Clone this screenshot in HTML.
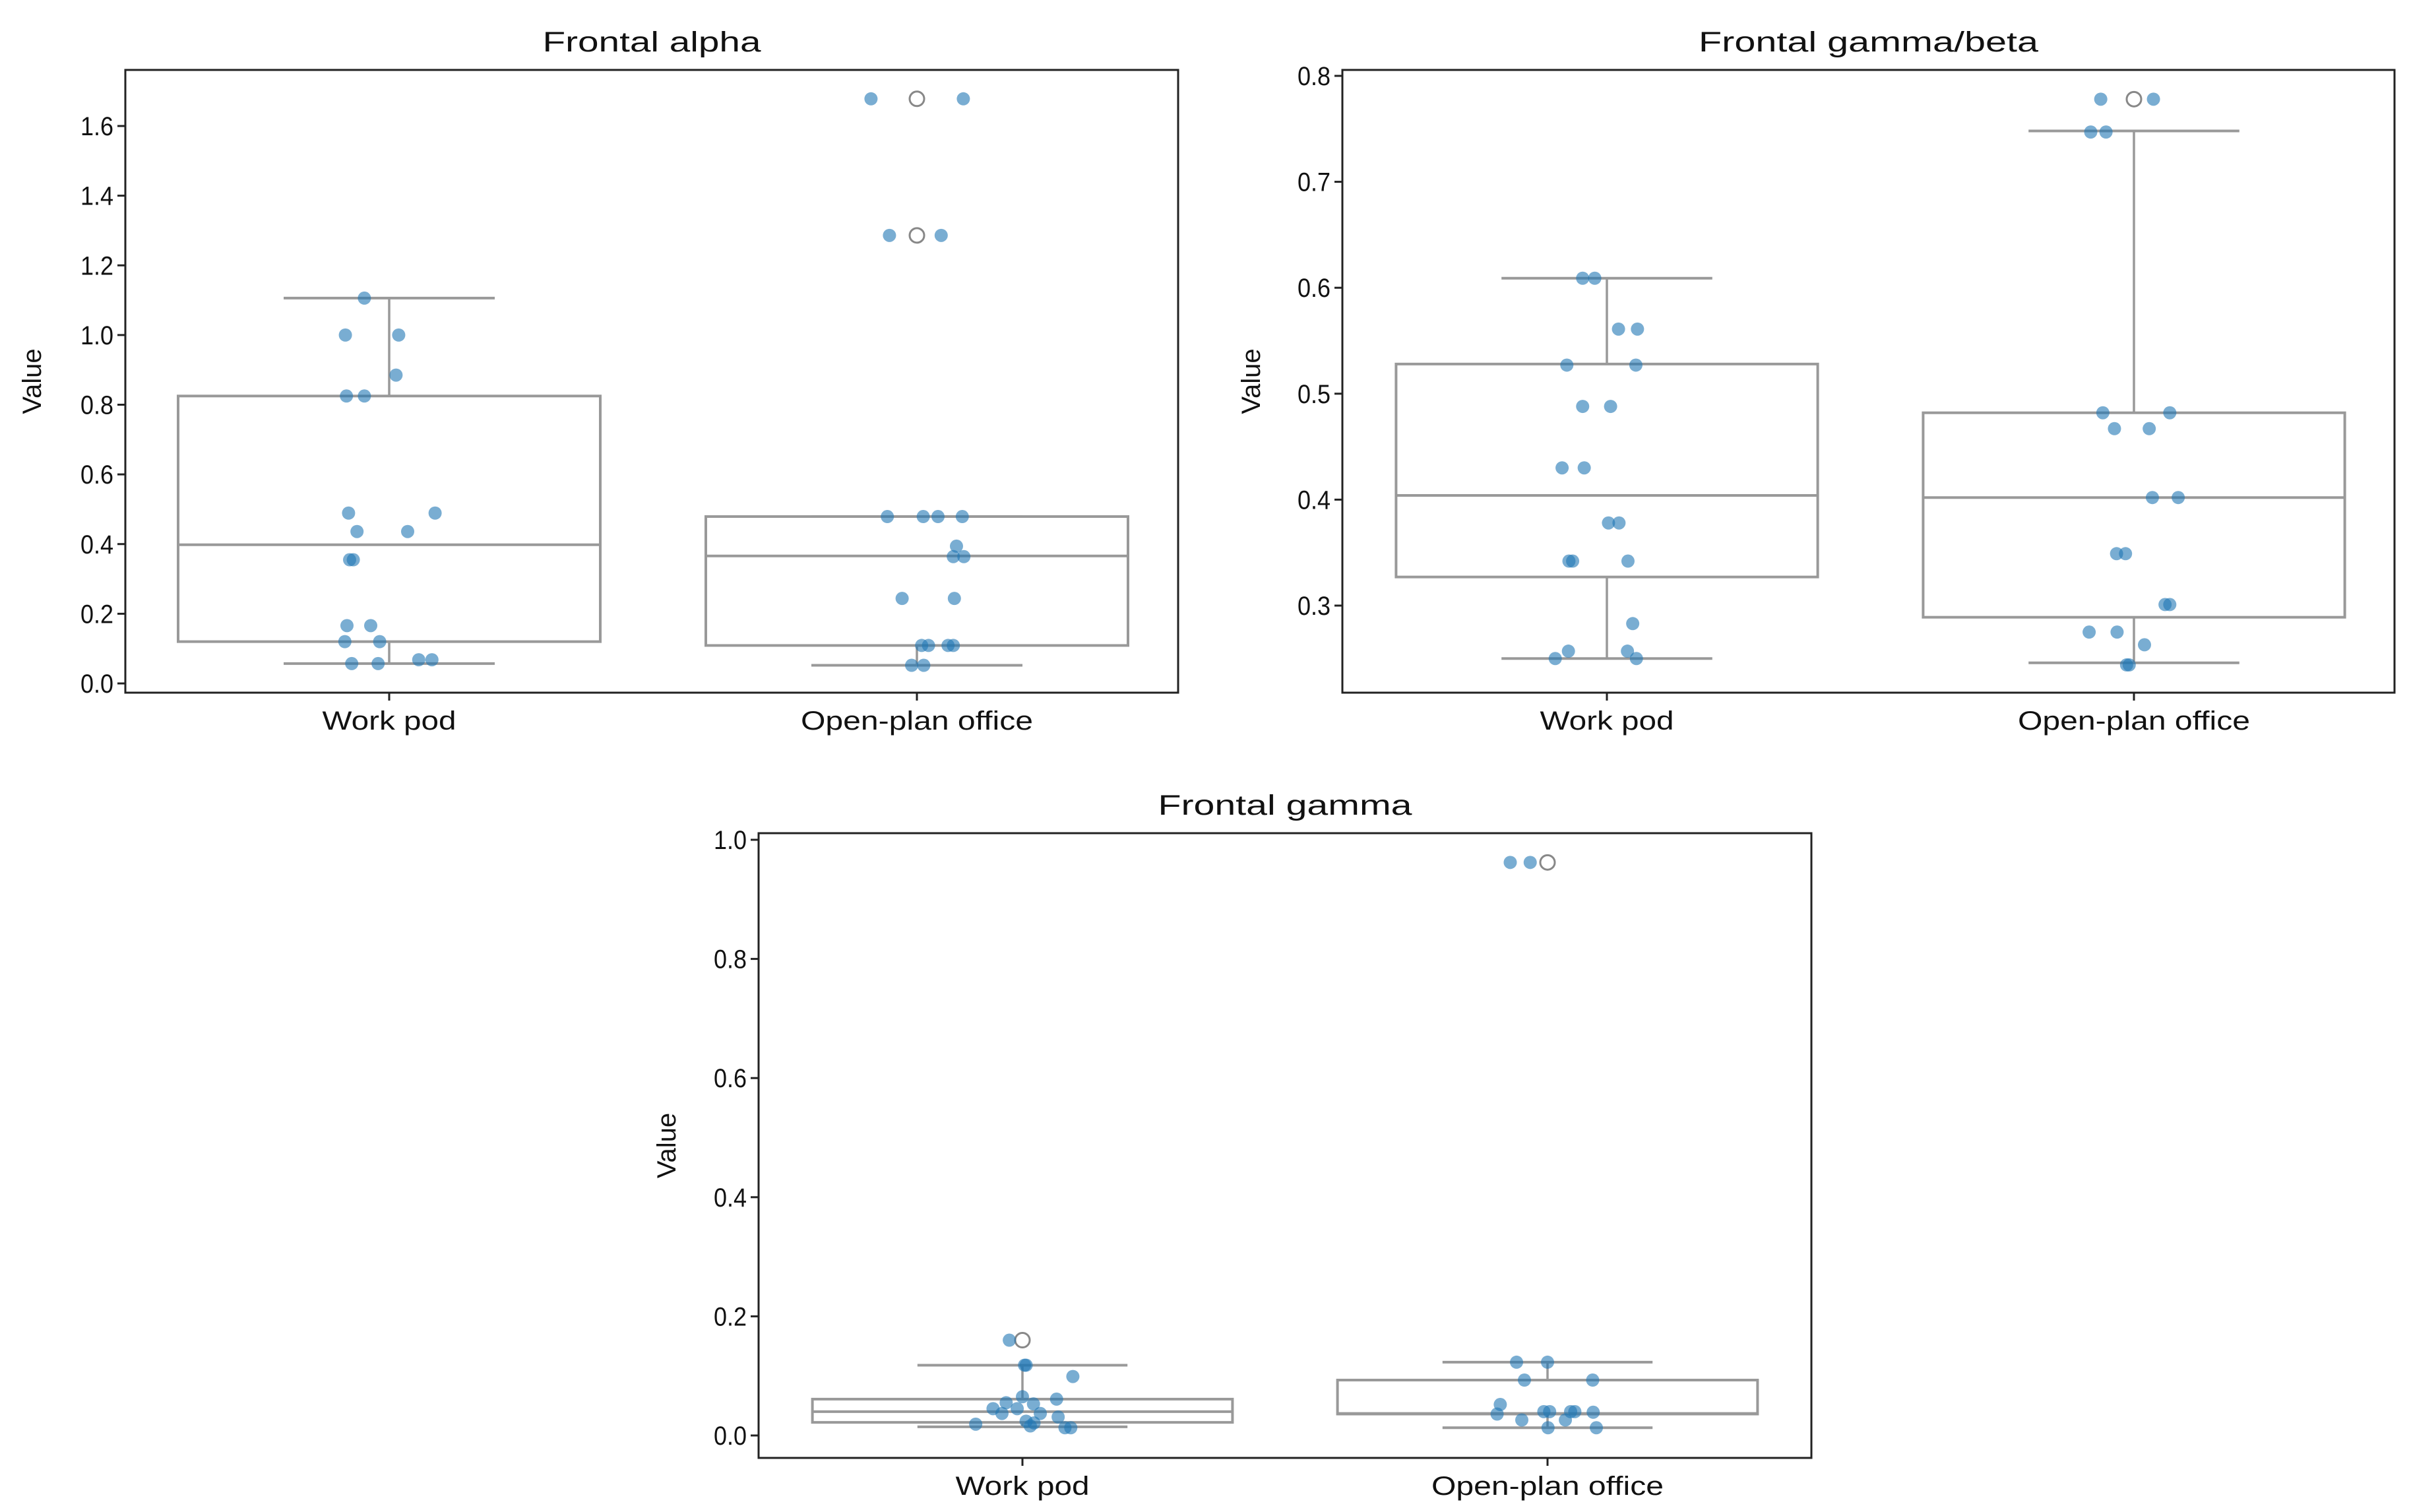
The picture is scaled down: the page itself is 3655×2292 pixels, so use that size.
<!DOCTYPE html>
<html><head><meta charset="utf-8"><style>
html,body{margin:0;padding:0;background:#fff}
svg{display:block}
text{font-family:"Liberation Sans","DejaVu Sans",sans-serif;fill:#111}
</style></head><body>
<svg id="chart" width="3655" height="2292" viewBox="0 0 3655 2292" xmlns="http://www.w3.org/2000/svg"></svg>
<script>
// ---- shared ----
const categories = ["Work pod", "Open-plan office"];

// Panel 1: Frontal alpha
const alphaWorkValues = [1.106,1.0,1.0,0.885,0.825,0.825,0.489,0.489,0.436,0.436,0.355,0.355,0.166,0.166,0.12,0.12,0.068,0.068,0.057,0.057];
const alphaWorkJitter = [-0.047,-0.083,0.018,0.013,-0.081,-0.047,-0.077,0.087,-0.061,0.035,-0.075,-0.068,-0.08,-0.035,-0.084,-0.018,0.056,0.081,-0.071,-0.021];
const alphaOpenValues = [1.678,1.678,1.286,1.286,0.479,0.479,0.479,0.479,0.394,0.364,0.364,0.244,0.244,0.109,0.109,0.109,0.109,0.052,0.052];
const alphaOpenJitter = [-0.087,0.088,-0.052,0.046,-0.056,0.012,0.040,0.086,0.075,0.069,0.089,-0.028,0.071,0.009,0.022,0.059,0.069,-0.010,0.013];
const alphaBoxQ1 = [0.12, 0.109];
const alphaBoxMedian = [0.398, 0.366];
const alphaBoxQ3 = [0.825, 0.479];
const alphaWhiskLow = [0.057, 0.052];
const alphaWhiskHigh = [1.106, 0.479];
const alphaOutliersOpen = [1.678, 1.286];
const alphaTicks = [0.0,0.2,0.4,0.6,0.8,1.0,1.2,1.4,1.6];
const alphaTickLabels = ["0.0","0.2","0.4","0.6","0.8","1.0","1.2","1.4","1.6"];

// Panel 2: Frontal gamma/beta
const gbWorkValues = [0.609,0.609,0.561,0.561,0.527,0.527,0.488,0.488,0.430,0.430,0.378,0.378,0.342,0.342,0.342,0.283,0.257,0.257,0.250,0.250];
const gbWorkJitter = [-0.046,-0.023,0.022,0.058,-0.076,0.055,-0.046,0.007,-0.085,-0.043,0.003,0.023,-0.072,-0.065,0.040,0.049,-0.073,0.039,-0.098,0.056];
const gbOpenValues = [0.778,0.778,0.747,0.747,0.482,0.482,0.467,0.467,0.402,0.402,0.349,0.349,0.301,0.301,0.275,0.275,0.263,0.244,0.244];
const gbOpenJitter = [-0.063,0.037,-0.082,-0.053,-0.059,0.068,-0.037,0.029,0.035,0.084,-0.033,-0.016,0.059,0.068,-0.085,-0.032,0.020,-0.014,-0.009];
const gbBoxQ1 = [0.327, 0.289];
const gbBoxMedian = [0.404, 0.402];
const gbBoxQ3 = [0.528, 0.482];
const gbWhiskLow = [0.25, 0.246];
const gbWhiskHigh = [0.609, 0.748];
const gbOutliersOpen = [0.778];
const gbTicks = [0.3,0.4,0.5,0.6,0.7,0.8];
const gbTickLabels = ["0.3","0.4","0.5","0.6","0.7","0.8"];

// Panel 3: Frontal gamma
const gWorkValues = [0.160,0.118,0.118,0.099,0.065,0.061,0.055,0.053,0.045,0.045,0.037,0.037,0.031,0.024,0.021,0.016,0.019,0.013,0.013];
const gWorkJitter = [-0.025,0.004,0.007,0.096,0.0,0.065,-0.031,0.021,-0.056,-0.010,0.034,-0.039,0.068,0.007,0.022,0.015,-0.089,0.081,0.092];
const gOpenValues = [0.962,0.962,0.123,0.123,0.093,0.093,0.052,0.036,0.040,0.040,0.040,0.040,0.039,0.026,0.026,0.013,0.013];
const gOpenJitter = [-0.071,-0.033,-0.059,0.0,-0.044,0.086,-0.090,-0.096,-0.007,0.004,0.044,0.052,0.087,-0.049,0.034,0.001,0.093];
const gBoxQ1 = [0.022, 0.036];
const gBoxMedian = [0.040, 0.037];
const gBoxQ3 = [0.061, 0.093];
const gWhiskLow = [0.0145, 0.013];
const gWhiskHigh = [0.118, 0.123];
const gOutliersWork = [0.160];
const gOutliersOpen = [0.962];
const gTicks = [0.0,0.2,0.4,0.6,0.8,1.0];
const gTickLabels = ["0.0","0.2","0.4","0.6","0.8","1.0"];

const NS = "http://www.w3.org/2000/svg";
const svg = document.getElementById("chart");
function mk(tag, attrs, parent){
  const e = document.createElementNS(NS, tag);
  for (const k in attrs) e.setAttribute(k, attrs[k]);
  (parent||svg).appendChild(e);
  return e;
}

function panel(cfg){
  const g = mk("g", {});
  
  
  const y = v => cfg.y0px + (v - cfg.y0v) * (cfg.y1px - cfg.y0px) / (cfg.y1v - cfg.y0v);
  const x = c => cfg.cx0 + c * (cfg.cx1 - cfg.cx0);
  const unit = cfg.cx1 - cfg.cx0;
  const gray = "#999";
  for (let i = 0; i < categories.length; i++){
    const bg = mk("g", {}, g);
    
    
    const cx = x(i), hw = 0.4*unit, cw = 0.2*unit;
    mk("line", {x1:cx, x2:cx, y1:y(cfg.wl[i]), y2:y(cfg.q1[i]), stroke:gray, "stroke-width":3.5}, bg);
    mk("line", {x1:cx, x2:cx, y1:y(cfg.q3[i]), y2:y(cfg.wh[i]), stroke:gray, "stroke-width":3.5}, bg);
    mk("line", {x1:cx-cw, x2:cx+cw, y1:y(cfg.wl[i]), y2:y(cfg.wl[i]), stroke:gray, "stroke-width":4}, bg);
    mk("line", {x1:cx-cw, x2:cx+cw, y1:y(cfg.wh[i]), y2:y(cfg.wh[i]), stroke:gray, "stroke-width":4}, bg);
    mk("rect", {x:cx-hw, y:y(cfg.q3[i]), width:2*hw, height:y(cfg.q1[i])-y(cfg.q3[i]), fill:"none", stroke:gray, "stroke-width":4}, bg);
    mk("line", {x1:cx-hw, x2:cx+hw, y1:y(cfg.med[i]), y2:y(cfg.med[i]), stroke:gray, "stroke-width":4}, bg);
  }
  cfg.outliers.forEach((arr, i) => {
    arr.forEach(v => {
      const c = mk("circle", {cx:x(i), cy:y(v), r:11, fill:"#fff", stroke:"#888", "stroke-width":3}, g);
      
      
    });
  });
  cfg.points.forEach((pair, i) => {
    const [vals, jit] = pair;
    vals.forEach((v, k) => {
      const c = mk("circle", {cx:x(i + jit[k]), cy:y(v), r:10, fill:"#1f77b4", "fill-opacity":0.6}, g);
      
      
    });
  });
  const fr = mk("rect", {x:cfg.L, y:cfg.T, width:cfg.R-cfg.L, height:cfg.B-cfg.T, fill:"none", stroke:"#222", "stroke-width":3}, g);
  
  
  cfg.ticks.forEach((t, k) => {
    const ty = y(t);
    mk("line", {x1:cfg.L-12, x2:cfg.L, y1:ty, y2:ty, stroke:"#222", "stroke-width":3}, g);
    const tx = mk("text", {x:cfg.L-18, y:ty+14, "font-size":40, "text-anchor":"end", textLength:50, lengthAdjust:"spacingAndGlyphs"}, g);
    tx.textContent = cfg.tickLabels[k];
    
    
  });
  categories.forEach((c, i) => {
    mk("line", {x1:x(i), x2:x(i), y1:cfg.B, y2:cfg.B+12, stroke:"#222", "stroke-width":3}, g);
    const tx = mk("text", {x:x(i), y:cfg.B+56, "font-size":40, "text-anchor":"middle", textLength: i===0?203:352, lengthAdjust:"spacingAndGlyphs"}, g);
    tx.textContent = c;
    
    
  });
  const tt = mk("text", {x:(cfg.L+cfg.R)/2, y:cfg.T-28, "font-size":43, "text-anchor":"middle", textLength:cfg.titleW, lengthAdjust:"spacingAndGlyphs"}, g);
  tt.textContent = cfg.title;
  
  
  const yl = mk("text", {x:0, y:0, "font-size":40, "text-anchor":"middle", transform:`translate(${cfg.ylabX},${(cfg.T+cfg.B)/2}) rotate(-90)`}, g);
  yl.textContent = "Value";
  
  
}

panel({name:"panel-frontal-alpha", title:"Frontal alpha", titleW:331,
  L:190, R:1786, T:106, B:1050, y0v:0, y0px:1036, y1v:1.6, y1px:191,
  cx0:590, cx1:1390, ylabX:62,
  q1:alphaBoxQ1, med:alphaBoxMedian, q3:alphaBoxQ3, wl:alphaWhiskLow, wh:alphaWhiskHigh,
  outliers:[[], alphaOutliersOpen],
  points:[[alphaWorkValues, alphaWorkJitter],[alphaOpenValues, alphaOpenJitter]],
  ticks:alphaTicks, tickLabels:alphaTickLabels});

panel({name:"panel-frontal-gamma-beta", title:"Frontal gamma/beta", titleW:515,
  L:2035, R:3630, T:106, B:1050, y0v:0.3, y0px:918, y1v:0.8, y1px:115,
  cx0:2436, cx1:3235, ylabX:1910,
  q1:gbBoxQ1, med:gbBoxMedian, q3:gbBoxQ3, wl:gbWhiskLow, wh:gbWhiskHigh,
  outliers:[[], gbOutliersOpen],
  points:[[gbWorkValues, gbWorkJitter],[gbOpenValues, gbOpenJitter]],
  ticks:gbTicks, tickLabels:gbTickLabels});

panel({name:"panel-frontal-gamma", title:"Frontal gamma", titleW:385,
  L:1150, R:2746, T:1263, B:2210, y0v:0, y0px:2176, y1v:1.0, y1px:1273,
  cx0:1550, cx1:2346, ylabX:1024,
  q1:gBoxQ1, med:gBoxMedian, q3:gBoxQ3, wl:gWhiskLow, wh:gWhiskHigh,
  outliers:[gOutliersWork, gOutliersOpen],
  points:[[gWorkValues, gWorkJitter],[gOpenValues, gOpenJitter]],
  ticks:gTicks, tickLabels:gTickLabels});
</script>
</body></html>
